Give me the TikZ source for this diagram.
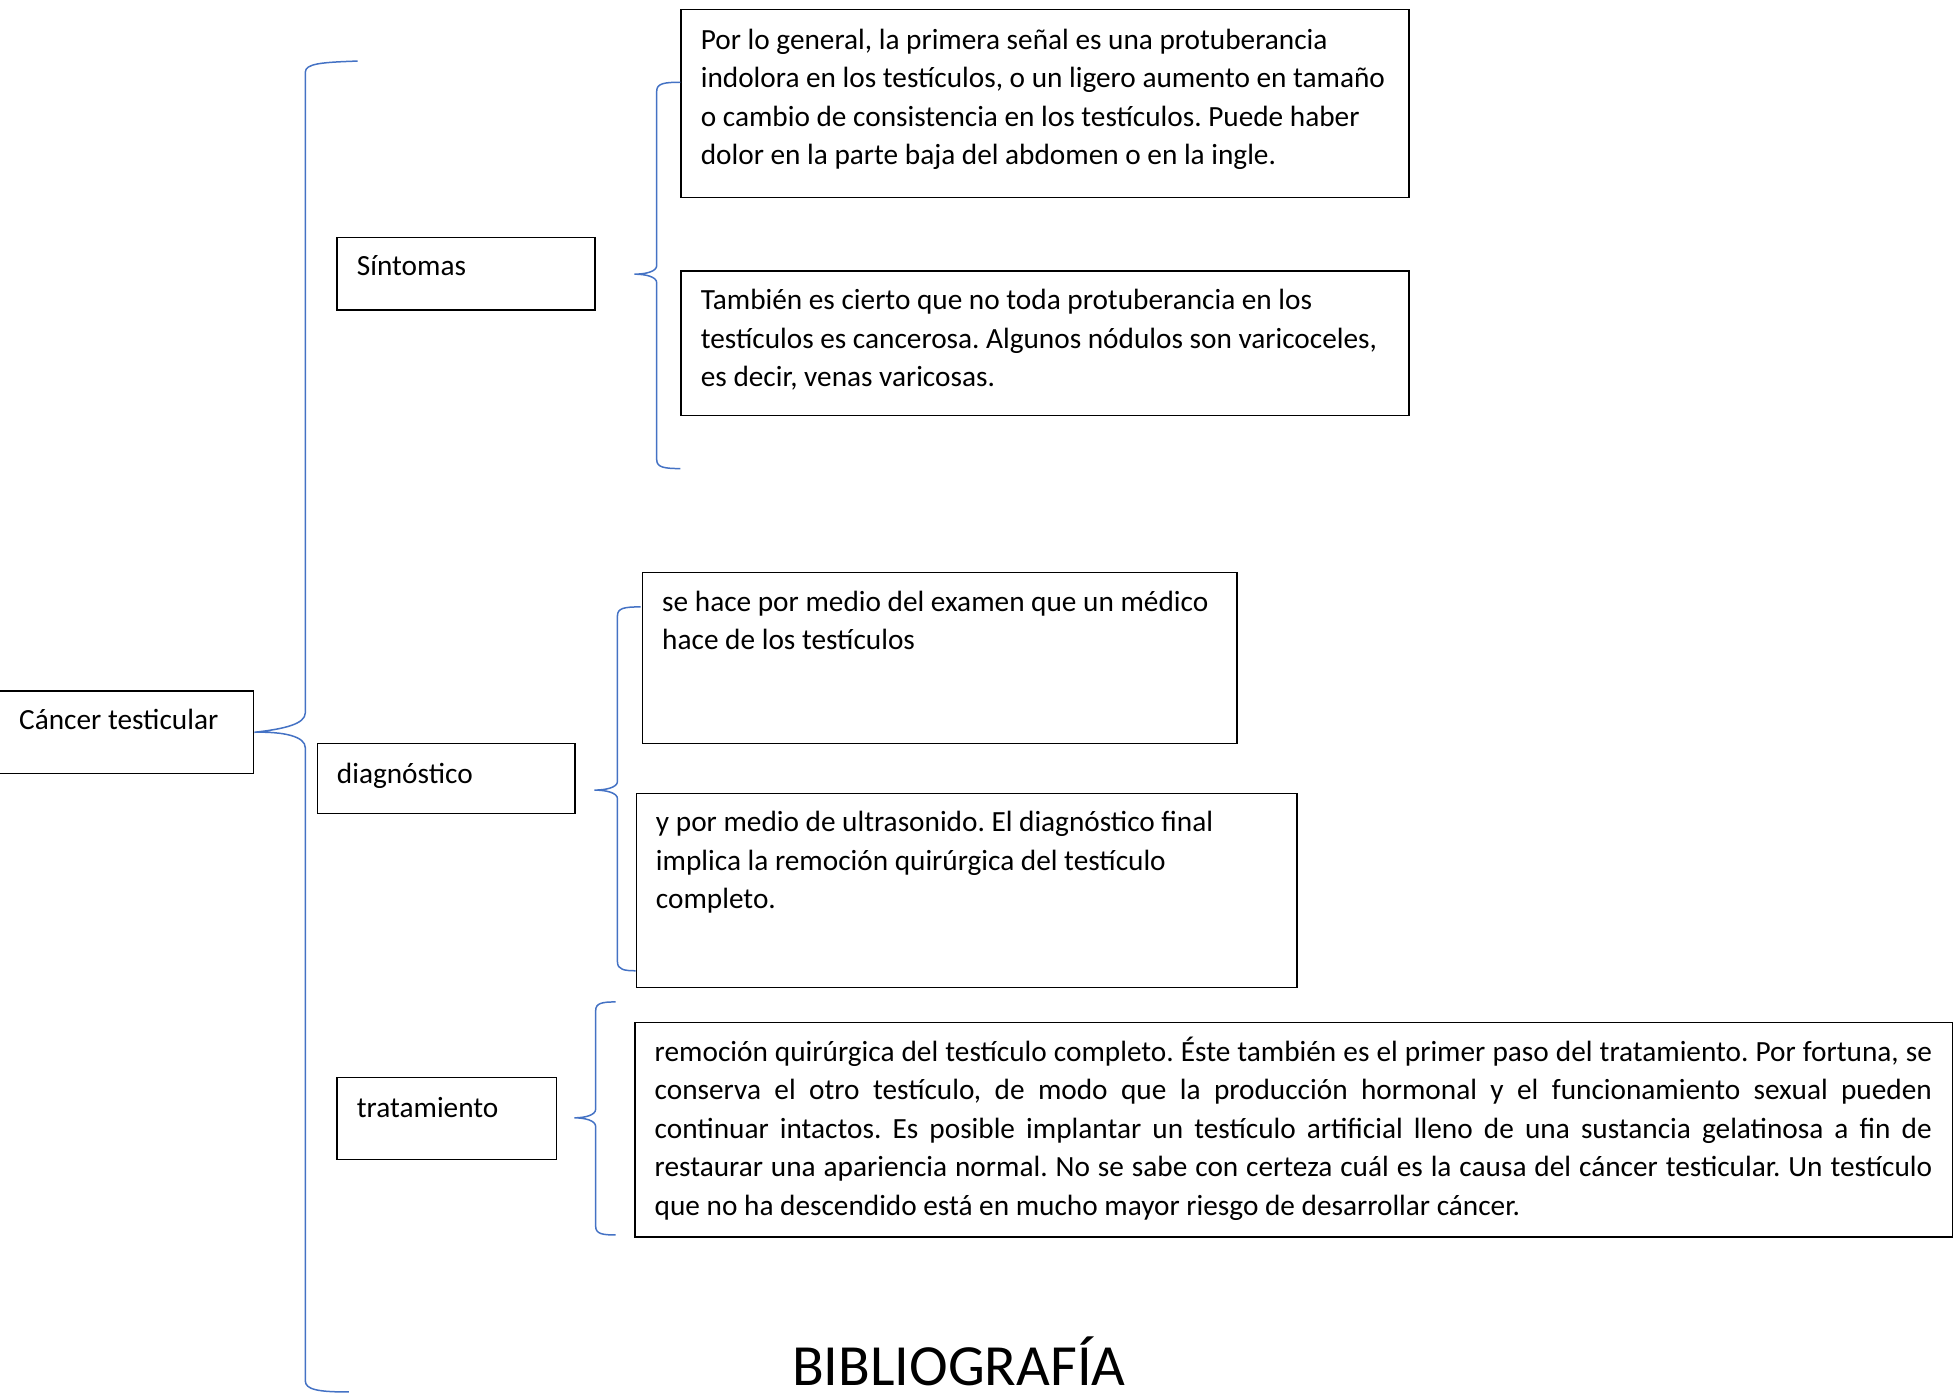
\documentclass[tikz,border=0pt]{standalone}
\usepackage{fontspec}
\setmainfont{Carlito}
\frenchspacing
\definecolor{braceblue}{RGB}{68,114,196}
\begin{document}
\begin{tikzpicture}[x=0.5pt,y=-0.5pt,
  box/.style={draw=black,line width=0.6pt,inner sep=0pt,anchor=north west},
  txt/.style={inner sep=0pt,anchor=north west,font=\fontsize{11.75}{15.5}\selectfont\frenchspacing,align=left},
  brace/.style={draw=braceblue,line width=0.6pt}]
\useasboundingbox (0,0) rectangle (1568,1119);
% boxes
\node[box,minimum width=204*0.5pt,minimum height=66*0.5pt] (root) at (-1,554) {};
\node[box,minimum width=207*0.5pt,minimum height=58*0.5pt] (sint) at (270,190) {};
\node[box,minimum width=207*0.5pt,minimum height=56*0.5pt] (diag) at (254,596) {};
\node[box,minimum width=176*0.5pt,minimum height=66*0.5pt] (trat) at (270,864) {};
\node[box,minimum width=584*0.5pt,minimum height=151*0.5pt] (s1) at (546,7) {};
\node[box,minimum width=584*0.5pt,minimum height=116*0.5pt] (s2) at (546,217) {};
\node[box,minimum width=477*0.5pt,minimum height=137*0.5pt] (d1) at (515,459) {};
\node[box,minimum width=530*0.5pt,minimum height=156*0.5pt] (d2) at (510,636) {};
\node[box,minimum width=1057*0.5pt,minimum height=172*0.5pt] (t1) at (509,820) {};
% texts
\node[txt] (rootT) at (15,563.3) {\strut Cáncer testicular};
\node[txt] (sintT) at (286,199.3) {\strut Síntomas};
\node[txt] (diagT) at (270,606.3) {\strut diagnóstico};
\node[txt] (tratT) at (286,874.3) {\strut tratamiento};
\node[txt] (s1T) at (562,17.3) {\strut Por lo general, la primera señal es una protuberancia\\
indolora en los testículos, o un ligero aumento en tamaño\\
o cambio de consistencia en los testículos. Puede haber\\
dolor en la parte baja del abdomen o en la ingle.};
\node[txt] (s2T) at (562,226.3) {\strut También es cierto que no toda protuberancia en los\\
testículos es cancerosa. Algunos nódulos son varicoceles,\\
es decir, venas varicosas.};
\node[txt] (d1T) at (531,468.3) {\strut se hace por medio del examen que un médico\\
hace de los testículos};
\node[txt] (d2T) at (526,645.3) {\strut y por medio de ultrasonido. El diagnóstico final\\
implica la remoción quirúrgica del testículo\\
completo.};
\node[txt,text width=1025*0.5pt,align=justify] (t1T) at (525,829.3) {\strut remoción quirúrgica del testículo completo. Éste también es el primer paso del tratamiento. Por fortuna, se\linebreak
conserva el otro testículo, de modo que la producción hormonal y el funcionamiento sexual pueden\linebreak
continuar intactos. Es posible implantar un testículo artificial lleno de una sustancia gelatinosa a fin de\linebreak
restaurar una apariencia normal. No se sabe con certeza cuál es la causa del cáncer testicular. Un testículo\linebreak
que no ha descendido está en mucho mayor riesgo de desarrollar cáncer.};
\node[inner sep=0pt,anchor=base,font=\fontsize{23.4}{28}\selectfont] (bib) at (769.5,1112) {BIBLIOGRAFÍA};
% brace end points
\coordinate (bAtop) at (287,49);
\coordinate (bAbot) at (280,1117);
\coordinate (bBtop) at (546,66);
\coordinate (bBtip) at (509,220);
\coordinate (bBbot) at (546,376);
\coordinate (bCtop) at (514,487);
\coordinate (bCtip) at (477,634);
\coordinate (bCbot) at (510,779);
\coordinate (bDtop) at (494,804);
\coordinate (bDtip) at (461,897);
\coordinate (bDbot) at (494,991);
% braces
\draw[brace] (bAtop) .. controls (258,50) and (245,51) .. (245,58) -- (245,572)
  .. controls (245,581) and (228,585) .. (root.east)
  .. controls (228,587) and (245,591) .. (245,600) -- (245,1108)
  .. controls (245,1115) and (255,1117) .. (bAbot);
\draw[brace] (bBtop) .. controls (533,66) and (527,67) .. (527,73) -- (527,213)
  .. controls (527,218) and (518,220) .. (bBtip)
  .. controls (518,220) and (527,222) .. (527,227) -- (527,369)
  .. controls (527,375) and (533,376) .. (bBbot);
\draw[brace] (bCtop) .. controls (501,487) and (495.5,488) .. (495.5,494) -- (495.5,627)
  .. controls (495.5,632) and (486,634) .. (bCtip)
  .. controls (486,634) and (495.5,636) .. (495.5,641) -- (495.5,772)
  .. controls (495.5,778) and (501,779) .. (bCbot);
\draw[brace] (bDtop) .. controls (483,804) and (478,805) .. (478,811) -- (478,890)
  .. controls (478,895) and (469,897) .. (bDtip)
  .. controls (469,897) and (478,899) .. (478,904) -- (478,984)
  .. controls (478,990) and (483,991) .. (bDbot);
\end{tikzpicture}
\end{document}
